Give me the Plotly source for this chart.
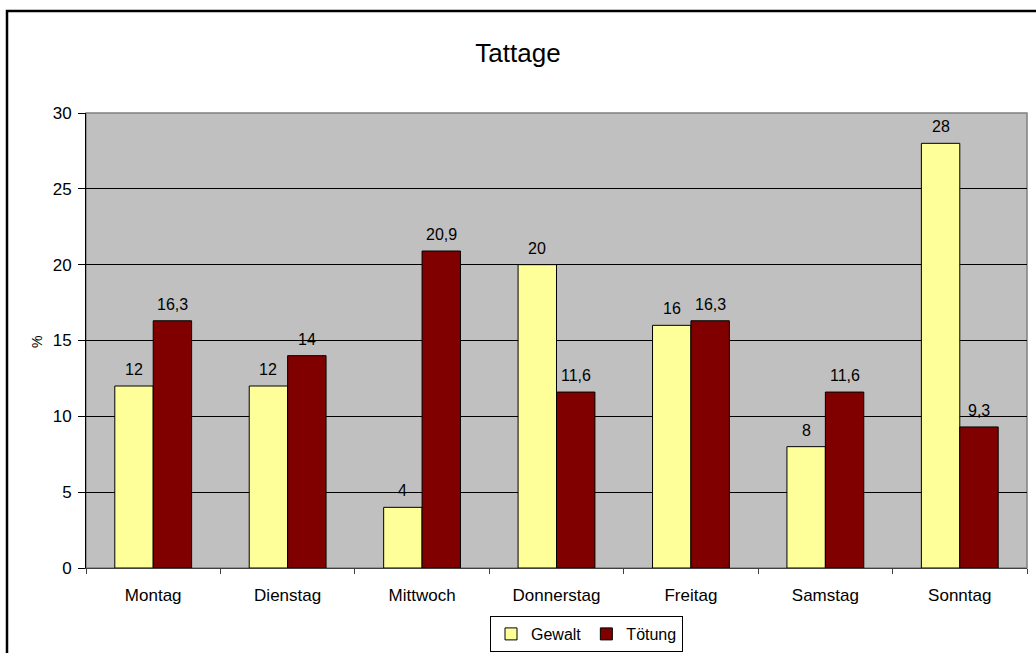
import plotly.graph_objects as go

categories = ["Montag", "Dienstag", "Mittwoch", "Donnerstag", "Freitag", "Samstag", "Sonntag"]
gewalt = [12, 12, 4, 20, 16, 8, 28]
toetung = [16.3, 14, 20.9, 11.6, 16.3, 11.6, 9.3]
y_ticks = [0, 5, 10, 15, 20, 25, 30]

W, H = 1036, 653
L, R, T, B = 86, 9, 113, 85
pw, ph = W - L - R, H - T - B
bar_w = pw / len(categories) / 3.5

def fmt(v):
    s = ("%g" % v)
    return s.replace(".", ",")

FONT = "Liberation Sans, Arial, sans-serif"

fig = go.Figure()
fig.add_trace(go.Bar(
    x=categories, y=gewalt, name="Gewalt",
    marker=dict(color="#FFFF99", line=dict(color="black", width=1)),
    hoverinfo="x+y",
))
fig.add_trace(go.Bar(
    x=categories, y=toetung, name="Tötung",
    marker=dict(color="#800000", line=dict(color="black", width=1)),
    hoverinfo="x+y",
))

def px(x):
    return (x - L) / pw

def py(y):
    return (H - B - y) / ph

annotations = [
    dict(text="%", xref="paper", yref="paper", x=px(37), y=py(342), showarrow=False,
         textangle=-90, font=dict(size=14, family=FONT, color="black"),
         xanchor="center", yanchor="middle"),
]
for series, shift in ((gewalt, -bar_w / 2), (toetung, bar_w / 2)):
    for c, v in zip(categories, series):
        annotations.append(dict(
            x=c, y=v, xref="x", yref="y", text=fmt(v), showarrow=False,
            xshift=shift, yshift=6, xanchor="center", yanchor="bottom",
            font=dict(size=16, family=FONT, color="black"),
        ))

fig.update_layout(
    width=W, height=H,
    margin=dict(l=L, r=R, t=T, b=B, autoexpand=False),
    paper_bgcolor="white", plot_bgcolor="#C0C0C0",
    font=dict(family=FONT, size=16, color="black"),
    barmode="group", bargap=1.5 / 3.5, bargroupgap=0,
    title=dict(text="Tattage", x=0.5, xanchor="center", y=1 - 53 / H, yanchor="middle",
               yref="container", font=dict(size=26, color="black", family=FONT)),
    showlegend=True,
    legend=dict(orientation="h", x=px(586.5), xanchor="center", y=py(616), yanchor="top",
                bordercolor="black", borderwidth=1, bgcolor="white",
                font=dict(size=16, family=FONT), itemwidth=30, traceorder="normal"),
    xaxis=dict(showline=True, linecolor="#404040", linewidth=1, ticks="outside", ticklen=5,
               tickcolor="#404040", tickson="boundaries", showgrid=False,
               tickfont=dict(size=17, family=FONT), automargin=False, ticklabelstandoff=12),
    yaxis=dict(range=[0, 30], tickvals=y_ticks, showline=True, linecolor="black", linewidth=1,
               ticks="outside", ticklen=7, tickcolor="black", showgrid=True, gridcolor="black",
               gridwidth=1, zeroline=False, tickfont=dict(size=17, family=FONT), automargin=False,
               ticklabelstandoff=3),
    shapes=[
        dict(type="rect", xref="paper", yref="paper", x0=0, x1=1, y0=0, y1=1,
             line=dict(color="#808080", width=1.5), layer="below"),
        dict(type="rect", xref="paper", yref="paper", x0=px(7), x1=px(1045), y0=py(11), y1=py(665),
             line=dict(color="black", width=2.5), layer="above"),
    ],
    annotations=annotations,
)

fig.write_html("out.html", config={"displayModeBar": False},
               post_script="document.body.style.margin='0';document.body.style.overflow='hidden';")
